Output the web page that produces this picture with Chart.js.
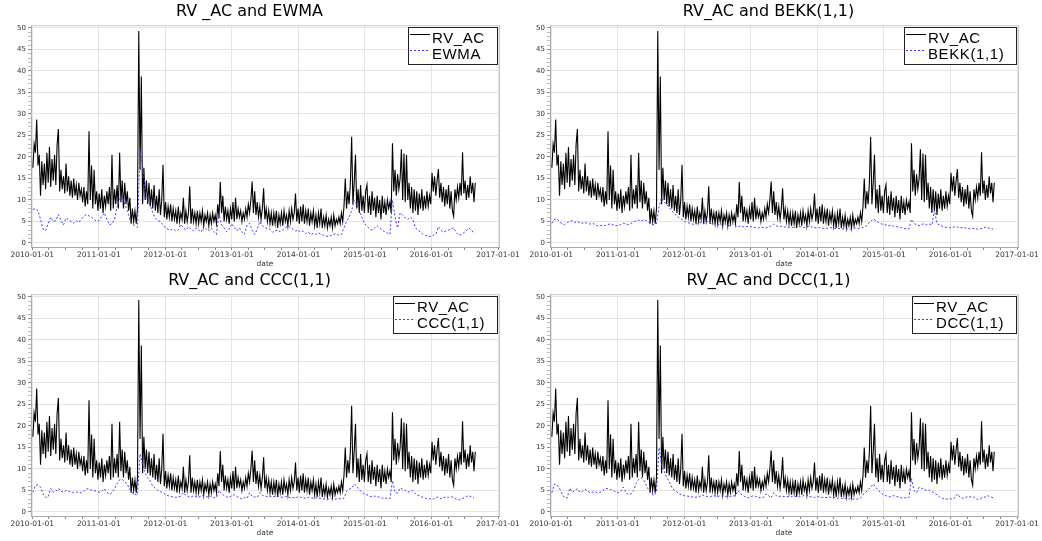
<!DOCTYPE html>
<html>
<head>
<meta charset="utf-8">
<title>RV_AC vs models</title>
<script src="https://cdn.jsdelivr.net/npm/chart.js@4.4.0/dist/chart.umd.min.js"></script>
<style>
body{margin:0;background:#fff;width:1042px;height:541px;overflow:hidden;position:relative}
canvas{position:absolute}
</style>
</head>
<body>
<canvas id="chart-ewma" width="520" height="270" style="left:0;top:0"></canvas>
<canvas id="chart-bekk" width="520" height="270" style="left:519px;top:0"></canvas>
<canvas id="chart-ccc" width="520" height="270" style="left:0;top:269px"></canvas>
<canvas id="chart-dcc" width="520" height="270" style="left:519px;top:269px"></canvas>
<script>
// RV_AC, one value per week starting 2010-01-04
const rvStart = '2010-01-04'
const rvWeekly = [
    17.5, 23, 21, 28.7, 18, 20.5, 11, 19, 13.5, 18.5,
    12.5, 21, 14, 22.3, 13, 19.5, 14.5, 20.5, 13.5, 23,
    26.5, 12, 17, 12.5, 15.5, 11.5, 18.5, 12, 15.5, 11,
    14.5, 10.5, 15, 11, 13.5, 10, 14, 11, 12.5, 9.5,
    13, 8.5, 12, 9, 26, 10, 18, 8, 17, 9,
    12, 7.5, 11.5, 8, 12.5, 7, 11, 8.5, 12, 9,
    13, 7.5, 20.5, 8, 12.5, 9, 13.5, 8, 21, 9.5,
    14.5, 8, 14, 9, 12, 7.5, 10.5, 4.5, 8, 5,
    7.5, 4.5, 8, 49.3, 17, 38.7, 9, 17.5, 10, 14.5,
    9, 14, 8.5, 12.5, 8, 13.5, 7.5, 11, 7, 12.5,
    6.5, 10, 18.2, 6, 9.5, 5.5, 8.5, 6, 9, 5,
    8, 5.5, 7.5, 4.5, 8.5, 5, 7, 5.5, 10.5, 4.5,
    7.5, 5, 7, 13.2, 4.5, 8, 5, 7, 4.5, 7.5,
    4.5, 7, 5, 7.5, 4, 6.5, 5, 7, 4, 6.5,
    4.5, 7, 5, 6.5, 4.5, 9, 6, 14.2, 7, 11,
    5, 8.5, 5.5, 7.5, 4.5, 8, 5.5, 9.5, 5, 10.5,
    5.5, 8, 6, 7.5, 5, 7, 5.5, 8, 6, 9,
    7, 10, 14.3, 7, 12, 6.5, 9.5, 6, 8.5, 5.5,
    8, 12.7, 5.5, 8, 5, 7.5, 4.5, 7, 4, 7,
    4.5, 7.5, 3.5, 6.5, 4.5, 7, 4, 7.5, 5, 6.5,
    4, 7.5, 5, 8, 5.5, 7, 11.5, 5, 8, 4.5,
    8.5, 5, 9, 4.5, 7.5, 5, 8, 4, 7, 5,
    7.5, 4, 6.5, 3.5, 7, 4.5, 8, 3.5, 6, 4,
    6.5, 3.5, 5.5, 4, 6, 3.5, 6.5, 4, 5.5, 4.5,
    6, 4.5, 7, 5, 8.5, 15, 8, 12, 9, 14,
    24.7, 9, 14, 20.5, 8, 12.5, 7, 13.5, 7.5, 11,
    7, 12, 13.5, 7, 11, 6.5, 12, 7.5, 10.5, 6,
    11, 7, 10, 5.5, 11, 7, 9.5, 6.5, 10, 8,
    9.5, 7, 23.2, 12, 17, 11, 16, 12.5, 15, 21.8,
    10, 20.8, 9.5, 20.5, 10, 14, 8, 13, 7, 12.5,
    7.5, 12, 6.5, 11.5, 8, 12.5, 7.5, 11, 8, 12,
    8.5, 11, 9, 16.3, 12, 15.5, 11, 14.5, 17.2, 10.5,
    14, 9.5, 13, 8.5, 12.5, 9, 13.5, 8, 12, 7.5,
    6.2, 12.5, 10, 13, 10.5, 14, 11, 21.1, 11.5, 14.5,
    10, 13.5, 10.5, 15.5, 11.5, 14, 9.5, 14
]

// model forecasts, one value every two weeks from the same start
const ewma = [
    7.8, 8.0, 7.5, 5.5, 3.2, 2.9, 4.5, 6.0, 5.0, 5.2,
    6.6, 5.3, 4.2, 5.8, 5.4, 5.0, 4.6, 5.2, 4.8, 5.6,
    6.2, 6.6, 6.3, 6.0, 5.5, 5.0, 5.2, 6.2, 7.0, 5.5,
    4.2, 4.5, 5.5, 8.5, 10.2, 11.0, 9.0, 7.5, 5.5, 4.6,
    4.0, 3.6, 21.5, 18.0, 12.5, 10.0, 8.8, 7.0, 5.8, 5.2,
    5.0, 4.2, 3.5, 3.2, 3.0, 3.3, 2.8, 3.1, 4.3, 3.5,
    3.0, 3.8, 3.2, 2.8, 3.5, 3.0, 2.6, 3.8, 3.2, 2.8,
    3.5, 2.6, 2.0, 6.8, 4.2, 3.5, 2.6, 3.2, 4.5, 3.6,
    2.8, 3.5, 2.6, 2.0, 4.2, 4.6, 3.0, 2.0, 3.2, 5.0,
    4.0, 3.5, 3.4, 3.2, 2.5, 2.8, 3.0, 2.6, 3.0, 3.5,
    4.0, 3.6, 3.2, 2.8, 3.0, 2.5, 2.8, 2.2, 2.5, 2.0,
    2.2, 2.0, 2.4, 2.0, 1.8, 1.6, 1.5, 1.8, 2.0, 2.2,
    1.8, 2.0, 3.5, 5.0, 6.0, 7.5, 10.0, 9.0, 7.5, 6.0,
    4.5, 4.0, 3.2, 3.0, 3.5, 4.0, 3.5, 3.0, 2.6, 2.3,
    2.0, 10.0, 6.0, 3.5, 7.0, 6.5, 5.8, 5.5, 6.0, 5.5,
    3.5, 3.0, 2.5, 2.0, 1.8, 1.6, 1.5, 1.8, 2.0, 3.8,
    3.0, 2.5, 2.8, 3.0, 3.3, 3.5, 2.5, 1.8, 2.0, 2.4,
    2.8, 3.5, 3.0, 2.2
]
const bekk = [
    4.6, 5.5, 5.6, 5.0, 4.4, 4.3, 4.8, 5.0, 5.2, 4.8,
    5.0, 4.7, 4.6, 4.8, 4.5, 4.4, 4.6, 4.2, 4.0, 4.1,
    4.0, 4.1, 4.3, 4.5, 4.2, 4.0, 4.1, 4.3, 4.6, 4.4,
    4.3, 4.6, 4.8, 5.2, 5.3, 5.1, 5.4, 5.2, 4.8, 4.4,
    4.3, 4.5, 8.5, 10.5, 9.5, 9.0, 8.2, 7.5, 6.8, 6.3,
    5.8, 5.5, 5.0, 4.8, 4.6, 4.4, 4.3, 4.5, 4.8, 4.4,
    4.6, 5.0, 4.6, 4.4, 4.5, 4.3, 4.2, 4.6, 4.4, 4.0,
    4.1, 4.5, 4.0, 3.8, 4.0, 3.8, 3.7, 3.9, 3.8, 3.6,
    3.6, 3.5, 3.7, 3.6, 3.5, 3.7, 4.0, 4.4, 4.0, 3.8,
    3.9, 3.7, 3.8, 3.6, 3.7, 3.5, 3.6, 3.8, 3.7, 3.6,
    3.8, 4.0, 3.7, 3.6, 3.5, 3.6, 3.4, 3.5, 3.4, 3.6,
    3.5, 3.4, 3.3, 3.4, 3.3, 3.2, 3.3, 3.2, 3.4, 3.5,
    3.4, 3.5, 3.6, 3.8, 4.5, 5.0, 5.6, 5.2, 4.8, 4.5,
    4.3, 4.2, 4.0, 4.1, 3.9, 3.8, 3.7, 3.6, 3.4, 3.3,
    3.3, 5.5, 4.6, 4.2, 4.0, 4.3, 4.5, 4.2, 4.4, 4.2,
    7.6, 4.5, 4.2, 3.9, 3.7, 3.6, 3.5, 3.6, 3.8, 3.7,
    3.5, 3.6, 3.5, 3.4, 3.3, 3.4, 3.3, 3.2, 3.3, 3.4,
    3.7, 3.5, 3.4, 3.2
]
const ccc = [
    4.6, 6.2, 6.3, 5.8, 4.2, 3.4, 3.5, 5.5, 4.6, 4.8,
    5.5, 4.8, 4.6, 5.0, 4.8, 4.6, 4.5, 4.7, 4.4, 4.5,
    4.8, 5.4, 5.3, 5.1, 5.0, 4.8, 4.6, 4.8, 5.4, 4.6,
    4.1, 4.5, 5.4, 6.6, 7.5, 7.6, 7.0, 6.5, 5.2, 4.4,
    4.1, 4.0, 13.5, 11.0, 9.0, 8.0, 7.2, 6.0, 5.5, 5.0,
    4.7, 4.5, 4.0, 3.8, 3.6, 3.5, 3.4, 3.5, 3.7, 4.5,
    3.8, 3.6, 3.5, 3.8, 3.6, 3.4, 3.7, 3.9, 3.5, 3.6,
    3.7, 3.3, 3.4, 5.0, 4.3, 3.8, 3.5, 3.4, 3.8, 4.0,
    3.6, 3.3, 3.0, 3.4, 3.2, 4.5, 3.6, 3.5, 3.4, 4.5,
    3.9, 3.7, 3.6, 3.7, 3.5, 3.6, 3.8, 3.5, 3.4, 3.6,
    3.5, 3.3, 3.4, 3.2, 3.6, 3.4, 3.3, 3.2, 3.4, 3.3,
    3.2, 3.3, 3.1, 3.2, 3.0, 3.1, 3.0, 3.1, 3.0, 3.0,
    3.1, 3.0, 3.2, 4.8, 5.3, 5.5, 6.5, 6.0, 5.2, 4.6,
    4.2, 4.0, 3.7, 3.5, 3.7, 3.6, 3.4, 3.2, 3.2, 3.2,
    3.1, 7.3, 4.6, 4.4, 5.6, 5.3, 5.0, 4.6, 4.8, 5.0,
    4.2, 3.9, 3.6, 3.4, 3.2, 3.0, 3.1, 3.0, 3.3, 3.5,
    3.1, 3.3, 3.5, 3.4, 3.6, 3.3, 3.0, 2.8, 3.0, 3.3,
    3.6, 3.8, 3.5, 3.2
]
const dcc = [
    4.5, 6.5, 6.3, 5.5, 4.2, 3.3, 3.3, 5.5, 4.6, 5.0,
    5.4, 4.6, 4.8, 5.3, 4.8, 4.5, 4.6, 4.7, 4.4, 4.6,
    5.0, 5.5, 5.4, 5.2, 5.0, 4.7, 4.5, 4.8, 5.8, 4.6,
    4.0, 4.2, 5.0, 6.6, 7.6, 7.9, 7.4, 6.2, 5.0, 4.3,
    3.8, 4.8, 15.0, 11.0, 9.5, 8.0, 7.0, 5.8, 5.0, 4.6,
    4.2, 4.0, 3.8, 3.7, 3.6, 3.5, 3.4, 3.5, 3.6, 4.0,
    3.7, 3.6, 3.5, 3.8, 3.7, 3.6, 3.8, 3.7, 3.6, 3.7,
    3.6, 3.7, 3.8, 5.0, 4.2, 3.8, 3.5, 3.3, 3.5, 3.8,
    3.6, 3.4, 3.3, 3.4, 4.2, 3.8, 3.3, 4.5, 3.8, 3.6,
    3.7, 3.6, 3.6, 3.5, 3.6, 3.7, 3.6, 3.5, 3.6, 3.9,
    4.0, 3.6, 3.5, 3.4, 3.6, 3.5, 3.4, 3.3, 3.4, 3.5,
    3.3, 3.4, 3.2, 3.3, 3.1, 3.2, 3.0, 3.1, 3.0, 3.0,
    3.0, 3.2, 4.0, 4.5, 5.2, 5.8, 6.5, 5.8, 5.0, 4.5,
    4.0, 3.8, 3.5, 3.6, 3.8, 3.6, 3.5, 3.3, 3.3, 3.3,
    3.3, 7.8, 5.0, 4.5, 5.8, 5.5, 5.3, 5.0, 5.1, 4.8,
    4.4, 4.0, 3.5, 3.2, 3.0, 3.0, 3.1, 3.0, 3.3, 4.2,
    3.5, 3.2, 3.3, 3.6, 3.5, 3.6, 3.2, 2.9, 3.1, 3.4,
    3.5, 3.8, 3.5, 3.3
]

const years = [2010, 2011, 2012, 2013, 2014, 2015, 2016, 2017]
const quarterMonths = [0, 3, 6, 9]
const yTicks = Array.from({ length: 51 }, (_, i) => i)

const panels = [
    { id: 'chart-ewma', title: 'RV _AC and EWMA', label: 'EWMA', values: ewma },
    { id: 'chart-bekk', title: 'RV_AC and BEKK(1,1)', label: 'BEKK(1,1)', values: bekk },
    { id: 'chart-ccc', title: 'RV_AC and CCC(1,1)', label: 'CCC(1,1)', values: ccc },
    { id: 'chart-dcc', title: 'RV_AC and DCC(1,1)', label: 'DCC(1,1)', values: dcc }
]

const DAY = 86400000

// date -> decimal year, so the linear axis can carry dates
function toYear(ms) {
    const d = new Date(ms)
    const y = d.getUTCFullYear()
    const a = Date.UTC(y, 0, 1)
    const b = Date.UTC(y + 1, 0, 1)
    return y + (ms - a) / (b - a)
}
function series(values, stepDays) {
    const t0 = Date.parse(rvStart + 'T00:00:00Z')
    return values.map((v, i) => ({ x: toYear(t0 + i * stepDays * DAY), y: v }))
}
const isYear = v => Math.abs(v - Math.round(v)) < 1e-6

const frame = {
    id: 'frame',
    afterDraw(chart) {
        const { ctx, chartArea: a } = chart
        ctx.save()
        ctx.strokeStyle = '#c8c8c8'
        ctx.lineWidth = 1
        ctx.beginPath()
        ctx.moveTo(a.left, a.top + 0.5)
        ctx.lineTo(a.right + 0.5, a.top + 0.5)
        ctx.lineTo(a.right + 0.5, a.bottom)
        ctx.stroke()
        ctx.restore()
    }
}

// boxed legend in the top right corner of the plot
const boxLegend = {
    id: 'boxLegend',
    afterDraw(chart) {
        const { ctx, chartArea } = chart
        const sets = chart.data.datasets
        ctx.save()
        ctx.font = '15px "Liberation Sans", Arial, sans-serif'
        ctx.letterSpacing = '0.6px'
        const w = Math.round(24 + Math.max(...sets.map(s => ctx.measureText(s.label).width)) + 12)
        const h = 37
        const x = Math.round(chartArea.right - 2 - w)
        const y = Math.round(chartArea.top + 2)
        ctx.fillStyle = '#fff'
        ctx.fillRect(x, y, w, h)
        ctx.strokeStyle = '#222'
        ctx.lineWidth = 1
        ctx.strokeRect(x + 0.5, y + 0.5, w, h)
        sets.forEach((s, i) => {
            const base = y + 16 + i * 16
            ctx.strokeStyle = s.borderColor
            ctx.setLineDash(s.borderDash || [])
            ctx.beginPath()
            ctx.moveTo(x + 2, base - 8.5)
            ctx.lineTo(x + 22, base - 8.5)
            ctx.stroke()
            ctx.setLineDash([])
            ctx.fillStyle = '#000'
            ctx.textBaseline = 'alphabetic'
            ctx.fillText(s.label, x + 24, base)
        })
        ctx.restore()
    }
}

Chart.defaults.font.family = '"DejaVu Sans", sans-serif'

function drawPanel(p) {
    const ctx = document.getElementById(p.id).getContext('2d')
    const rvData = series(rvWeekly, 7)
    const modelData = series(p.values, 14)
    new Chart(ctx, {
        type: 'line',
        data: {
            datasets: [
                { label: 'RV_AC', data: rvData, borderColor: '#000', borderWidth: 1.1, pointRadius: 0, order: 1 },
                { label: p.label, data: modelData, borderColor: '#3a3aff', borderWidth: 1, borderDash: [2, 2], pointRadius: 0, order: 0 }
            ]
        },
        options: {
            responsive: false,
            animation: false,
            events: [],
            layout: { padding: { top: 1, right: 21, left: 0, bottom: 0 } },
            plugins: {
                legend: { display: false },
                tooltip: { enabled: false },
                title: {
                    display: true,
                    text: p.title,
                    color: '#000',
                    font: { size: 16, weight: 'normal' },
                    padding: { top: 1, bottom: 4 }
                }
            },
            scales: {
                x: {
                    type: 'linear',
                    min: 2009.98,
                    max: 2017.015,
                    afterBuildTicks: scale => {
                        const t = []
                        years.forEach(y => {
                            quarterMonths.forEach(m => {
                                if (y < 2017 || m === 0) t.push({ value: toYear(Date.UTC(y, m, 1)) })
                            })
                        })
                        scale.ticks = t
                    },
                    afterFit: scale => {
                        scale.height = 23
                        scale.paddingLeft = 0
                        scale.paddingRight = 0
                    },
                    ticks: {
                        autoSkip: false,
                        maxRotation: 0,
                        padding: 1,
                        color: '#333',
                        font: { size: 7.5 },
                        callback: v => isYear(v) ? Math.round(v) + '-01-01' : ''
                    },
                    grid: {
                        color: c => c.tick && isYear(c.tick.value) ? '#e4e4e4' : 'rgba(0,0,0,0)',
                        tickColor: '#888',
                        tickLength: 3
                    },
                    border: { color: '#aaa' },
                    title: {
                        display: true,
                        text: 'date',
                        color: '#333',
                        font: { size: 7.5 },
                        padding: { top: 0, bottom: 1 }
                    }
                },
                y: {
                    min: -0.93,
                    max: 50.63,
                    afterBuildTicks: scale => {
                        scale.ticks = yTicks.map(v => ({ value: v }))
                    },
                    afterFit: scale => {
                        scale.width = 31
                        scale.paddingTop = 0
                        scale.paddingBottom = 0
                    },
                    ticks: {
                        autoSkip: false,
                        padding: 2,
                        color: '#333',
                        font: { size: 7 },
                        callback: v => v % 5 === 0 ? String(v) : ''
                    },
                    grid: {
                        color: c => c.tick && c.tick.value % 5 === 0 ? '#e4e4e4' : 'rgba(0,0,0,0)',
                        tickColor: c => c.tick && c.tick.value % 5 === 0 ? '#888' : '#bbb',
                        tickLength: 3
                    },
                    border: { color: '#aaa' }
                }
            }
        },
        plugins: [frame, boxLegend]
    })
}

panels.forEach(drawPanel)
</script>
</body>
</html>
